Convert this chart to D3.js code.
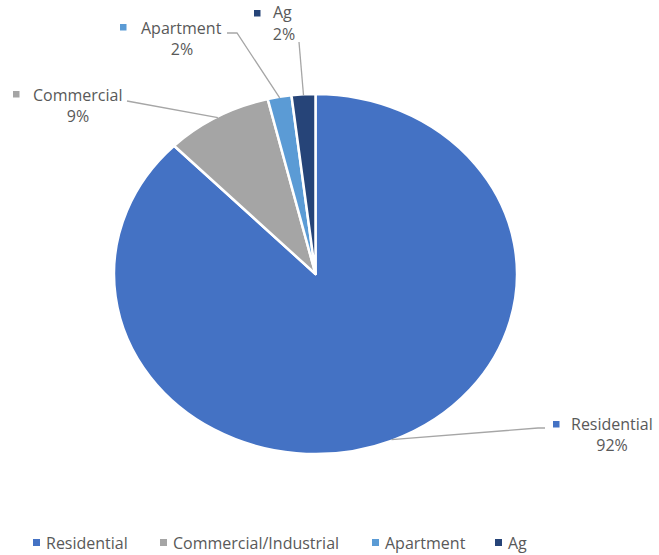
<!DOCTYPE html>
<html>
<head>
<meta charset="utf-8">
<script src="https://cdn.jsdelivr.net/npm/d3@7"></script>
<style>
  html, body { margin: 0; padding: 0; background: #ffffff; }
  svg { display: block; font-family: "Open Sans", "Liberation Sans", sans-serif; }
</style>
</head>
<body>
<svg id="chart" width="659" height="555"></svg>
<script>
// Customer class shares (percent)
const categories = ["Residential", "Commercial/Industrial", "Apartment", "Ag"];
const shortNames = ["Residential", "Commercial", "Apartment", "Ag"];
const values = [92, 9, 2, 2];
const colors = ["#4472C4", "#A5A5A5", "#5B9BD5", "#264478"];

const svg = d3.select("#chart");
const W = 659;

// Plot geometry: pie drawn slightly wider than tall
const cx = 315.5, cy = 274, ry = 180, rx = 201.5;

const pie = d3.pie().sort(null).value(d => d)(values);
const arc = d3.arc().innerRadius(0).outerRadius(ry);

const pieG = svg.append("g")
  .attr("transform", `translate(${cx},${cy}) scale(${rx / ry},1)`);

pieG.selectAll("path")
  .data(pie)
  .join("path")
  .attr("d", arc)
  .attr("fill", (d, i) => colors[i])
  .attr("stroke", "#ffffff")
  .attr("stroke-width", 2.5)
  .attr("stroke-linejoin", "round")
  .attr("vector-effect", "non-scaling-stroke");

// Point on the pie rim at the middle of a slice
function rimPoint(d, k = 1) {
  const a = (d.startAngle + d.endAngle) / 2;
  return [cx + rx * k * Math.sin(a), cy - ry * k * Math.cos(a)];
}

// Data label placement: marker position, text anchor, and leader start
const labelLayout = [
  { mx: 556, my: 424, tx: 571, ty: 430, px: 612, py: 451, lead: [[545, 428], [538, 428]] },
  { mx: 16, my: 94, tx: 33, ty: 101, px: 78, py: 122, lead: [[127, 101]] },
  { mx: 123, my: 27, tx: 141, ty: 34, px: 182, py: 55, lead: [[227, 33], [237, 33]] },
  { mx: 257, my: 13, tx: 273, ty: 18, px: 284, py: 40, lead: [[299, 42]] }
];

const textColor = "#595959";
const fontSize = 16;

const labels = svg.append("g");
pie.forEach((d, i) => {
  const L = labelLayout[i];
  const pts = L.lead.concat([rimPoint(d, 0.995)]);
  labels.append("polyline")
    .attr("points", pts.map(p => p.join(",")).join(" "))
    .attr("fill", "none")
    .attr("stroke", "#A6A6A6")
    .attr("stroke-width", 1.3);
  labels.append("rect")
    .attr("x", L.mx - 3).attr("y", L.my - 3)
    .attr("width", 6.5).attr("height", 6.5)
    .attr("fill", colors[i]);
  labels.append("text")
    .attr("x", L.tx).attr("y", L.ty)
    .attr("fill", textColor)
    .attr("font-size", fontSize)
    .text(shortNames[i]);
  labels.append("text")
    .attr("x", L.px).attr("y", L.py)
    .attr("text-anchor", "middle")
    .attr("fill", textColor)
    .attr("font-size", fontSize)
    .text(values[i] + "%");
});

// Legend along the bottom
const legendX = [33, 160, 372, 495];
const legend = svg.append("g");
categories.forEach((c, i) => {
  legend.append("rect")
    .attr("x", legendX[i]).attr("y", 539)
    .attr("width", 7).attr("height", 7)
    .attr("fill", colors[i]);
  legend.append("text")
    .attr("x", legendX[i] + 13).attr("y", 549)
    .attr("fill", textColor)
    .attr("font-size", fontSize)
    .text(c);
});
</script>
</body>
</html>
